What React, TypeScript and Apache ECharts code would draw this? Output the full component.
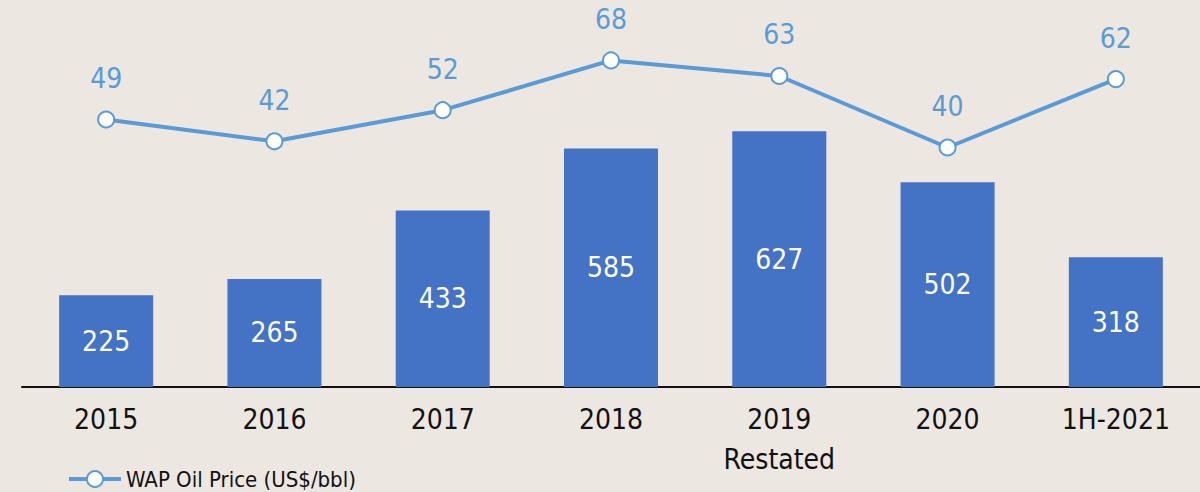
import React, { useEffect, useRef } from "react";
import * as echarts from "echarts";

const categories = ["2015", "2016", "2017", "2018", "2019\nRestated", "2020", "1H-2021"];
const barValues = [225, 265, 433, 585, 627, 502, 318];
const oilPrice = [49, 42, 52, 68, 63, 40, 62];
const lineName = "WAP Oil Price (US$/bbl)";

const FONT = "'DejaVu Sans Condensed', 'Roboto', sans-serif";

export default function App() {
  const ref = useRef<HTMLDivElement>(null);
  useEffect(() => {
    document.body.style.margin = "0";
    const chart = echarts.init(ref.current!, null, { renderer: "svg" });
    chart.setOption({
      animation: false,
      backgroundColor: "#ece7e1",
      textStyle: { fontFamily: FONT },
      grid: { left: 22, right: -2, top: 20, bottom: 105, containLabel: false },
      legend: {
        left: 62,
        top: 463,
        itemWidth: 52,
        itemHeight: 20,
        itemGap: 6,
        data: [lineName],
        lineStyle: { width: 4 },
        textStyle: { fontFamily: FONT, fontSize: 22, color: "#111", padding: [0, 0, 0, 0] },
      },
      xAxis: {
        type: "category",
        data: categories,
        axisLine: { lineStyle: { color: "#111", width: 2 } },
        axisTick: { show: false },
        axisLabel: { fontFamily: FONT, fontSize: 28, color: "#111", margin: 12, lineHeight: 40 },
      },
      yAxis: [
        { type: "value", min: 0, max: 900, show: false, splitLine: { show: false } },
        { type: "value", min: -37, max: 81, show: false, splitLine: { show: false } },
      ],
      series: [
        {
          type: "bar",
          data: barValues,
          barWidth: 94,
          itemStyle: { color: "#4472c4" },
          label: {
            show: true,
            position: "inside",
            color: "#fff",
            fontFamily: FONT,
            fontSize: 28,
          },
        },
        {
          type: "line",
          name: lineName,
          yAxisIndex: 1,
          data: oilPrice,
          symbol: "circle",
          symbolSize: 16,
          lineStyle: { color: "#5b9bd5", width: 4 },
          itemStyle: { color: "#fff", borderColor: "#5b9bd5", borderWidth: 2 },
          label: {
            show: true,
            position: "top",
            distance: 18,
            color: "#5b9bd5",
            fontFamily: FONT,
            fontSize: 28,
          },
        },
      ],
    });
    return () => chart.dispose();
  }, []);
  return <div ref={ref} style={{ width: 1200, height: 492 }} />;
}
